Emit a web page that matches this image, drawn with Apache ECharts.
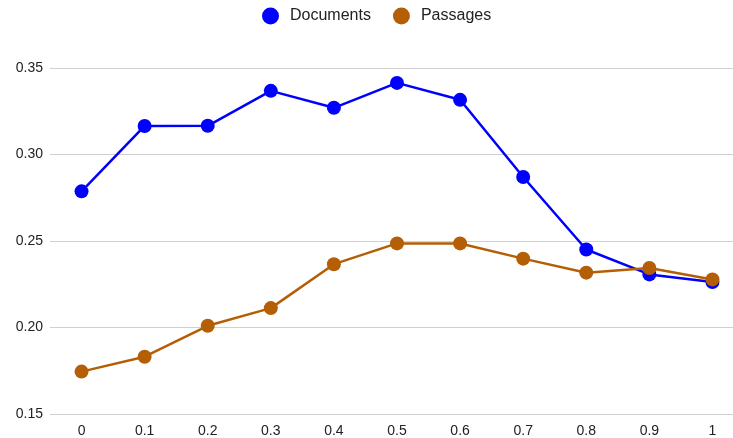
<!DOCTYPE html>
<html><head><meta charset="utf-8">
<script src="https://cdn.jsdelivr.net/npm/echarts@6/dist/echarts.min.js"></script>
<style>html,body{margin:0;padding:0;background:#fff;overflow:hidden;width:733px;height:438px}#c{width:744px;height:438px}</style>
</head><body><div id="c"></div>
<script>
const categories = ['0','0.1','0.2','0.3','0.4','0.5','0.6','0.7','0.8','0.9','1'];
const documents = [0.2787,0.3165,0.3166,0.3368,0.3270,0.3414,0.3316,0.2870,0.2451,0.2307,0.2263];
const passages = [0.1745,0.1831,0.2010,0.2112,0.2366,0.2486,0.2486,0.2398,0.2317,0.2344,0.2278];
const yTicks = [0.15,0.20,0.25,0.30,0.35];

const chart = echarts.init(document.getElementById('c'));
chart.setOption({
  animation:false,
  textStyle:{fontFamily:'Liberation Sans, Arial, sans-serif'},
  legend:{top:2.5,left:257,itemWidth:17,itemHeight:17,itemGap:22,icon:'circle',
    textStyle:{fontSize:16,color:'#222',padding:[0,0,0,6]},
    data:['Documents','Passages']},
  grid:{left:50,top:68,right:0,bottom:22.7,containLabel:false},
  xAxis:{type:'category',data:categories,boundaryGap:true,
    axisLine:{show:false},axisTick:{show:false},
    axisLabel:{fontSize:14,color:'#222',margin:10}},
  yAxis:{type:'value',min:yTicks[0],max:yTicks[yTicks.length-1],interval:0.05,
    axisLine:{show:false},axisTick:{show:false},
    splitLine:{lineStyle:{color:'#d0d0d0',width:1}},
    axisLabel:{fontSize:14,color:'#222',margin:7,formatter:v=>v.toFixed(2)}},
  series:[
    {name:'Documents',type:'line',data:documents,symbol:'circle',symbolSize:14,
     itemStyle:{color:'#0000ff'},lineStyle:{color:'#0000ff',width:2.5}},
    {name:'Passages',type:'line',data:passages,symbol:'circle',symbolSize:14,
     itemStyle:{color:'#b45f06'},lineStyle:{color:'#b45f06',width:2.5}}
  ]
});
</script></body></html>
